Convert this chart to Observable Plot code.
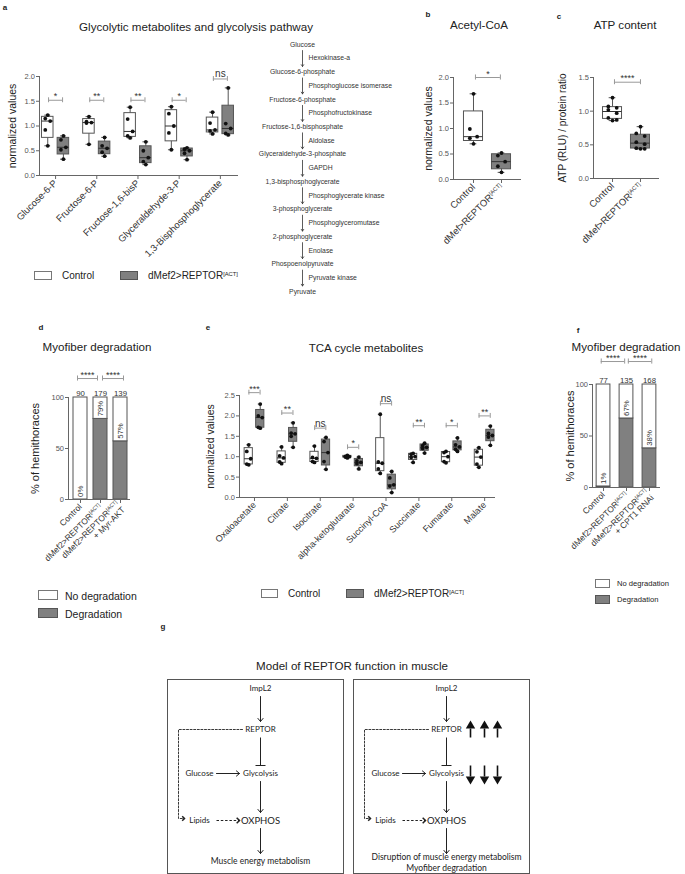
<!DOCTYPE html>
<html><head><meta charset="utf-8">
<script src="https://cdn.jsdelivr.net/npm/d3@7"></script>
<script src="https://cdn.jsdelivr.net/npm/@observablehq/plot@0.6"></script>
<style>
body{margin:0;background:#fff;}
#fig{position:relative;width:685px;height:874px;overflow:hidden;font-family:"Liberation Sans",Arial,Helvetica,sans-serif;color:#222;background:#fff;}
</style></head><body><div id="fig"></div>
<script>
// ---------------- DATA ----------------
const glyCats = ["Glucose-6-P","Fructose-6-P","Fructose-1,6-bisP","Glyceraldehyde-3-P","1,3-Bisphosphoglycerate"];
const glyControl = [[1.22,1.15,1.10,0.92,0.60],[1.19,1.09,1.07,1.06,0.63],[1.38,1.14,0.89,0.80,0.76],[1.39,1.25,1.00,0.86,0.52],[1.28,1.06,0.92,0.90,0.84]];
const glyReptor  = [[0.80,0.72,0.57,0.52,0.33],[0.77,0.60,0.55,0.47,0.39],[0.68,0.50,0.36,0.28,0.22],[0.56,0.53,0.50,0.45,0.32],[1.77,1.05,0.95,0.85,0.82]];
const glySig  = ["*","**","**","*","ns"];
const glySigY = [1.52,1.52,1.52,1.52,1.95];

const pathwayMetabolites = ["Glucose","Glucose-6-phosphate","Fructose-6-phosphate","Fructose-1,6-bisphosphate","Glyceraldehyde-3-phosphate","1,3-bisphosphoglycerate","3-phosphoglycerate","2-phosphoglycerate","Phospoenolpyruvate","Pyruvate"];
const pathwayEnzymes = ["Hexokinase-a","Phosphoglucose isomerase","Phosphofructokinase","Aldolase","GAPDH","Phosphoglycerate kinase","Phosphoglyceromutase","Enolase","Pyruvate kinase"];

const acCats = ["Control","dMef>REPTOR[ACT]"];
const acValues = [[1.68,0.99,0.84,0.81,0.70],[0.52,0.47,0.35,0.26,0.14]];
const acSig = "*", acSigY = 2.0;

const atpCats = ["Control","dMef>REPTOR[ACT]"];
const atpValues = [[1.20,1.07,1.05,1.02,0.97,0.90,0.87,0.86],[0.77,0.67,0.63,0.54,0.51,0.45,0.44,0.44]];
const atpSig = "****", atpSigY = 1.43;

const tcaCats = ["Oxaloacetate","Citrate","Isocitrate","alpha-ketoglutarate","Succinyl-CoA","Succinate","Fumarate","Malate"];
const tcaControl = [[1.29,1.13,0.95,0.82,0.80],[1.24,1.02,0.97,0.87,0.83],[1.26,0.98,0.96,0.88,0.86],[1.03,1.01,1.00,0.99,0.97],[2.04,0.87,0.84,0.70,0.59],[1.08,1.06,1.00,0.98,0.86],[1.13,1.10,1.00,0.88,0.85],[1.22,1.12,0.99,0.82,0.74]];
const tcaReptor  = [[2.29,2.00,1.96,1.72,1.70],[1.83,1.58,1.56,1.50,1.23],[1.47,1.37,1.10,0.88,0.69],[0.99,0.90,0.86,0.83,0.70],[0.64,0.48,0.31,0.28,0.12],[1.33,1.27,1.23,1.20,1.09],[1.46,1.29,1.24,1.18,1.13],[1.75,1.57,1.52,1.48,1.28]];
const tcaSig  = ["***","**","ns","*","ns","**","*","**"];
const tcaSigY = [2.57,2.07,1.70,1.23,2.30,1.76,1.76,2.00];

const myoDGroups = ["Control","dMef2>REPTOR[ACT]","dMef2>REPTOR[ACT]\n+ Myr-AKT"];
const myoDDegradation = [0,79,57];
const myoDCounts = [90,179,139];
const myoDSig = ["****","****"];

const myoFGroups = ["Control","dMef2>REPTOR[ACT]","dMef2>REPTOR[ACT]\n+ CPT1 RNAi"];
const myoFDegradation = [1,67,38];
const myoFCounts = [77,135,168];
const myoFSig = ["****","****"];

const legendGroups = ["Control","dMef2>REPTOR[ACT]"];
const degLegend = ["No degradation","Degradation"];

const modelNodes = ["ImpL2","REPTOR","Glucose","Glycolysis","Lipids","OXPHOS"];
const modelOutcomeNormal = ["Muscle energy metabolism"];
const modelOutcomeActive = ["Disruption of muscle energy metabolism","Myofiber degradation"];
const modelEdges = [["ImpL2","REPTOR","act"],["REPTOR","Glycolysis","inh"],["Glucose","Glycolysis","act"],["Glycolysis","OXPHOS","act"],["Lipids","OXPHOS","dash"],["OXPHOS","outcome","act"]];

// ---------------- HELPERS ----------------
const FONT = '"Liberation Sans", Arial, Helvetica, sans-serif';
const GREY = "#808080", EDGE = "#555", AX = "#666";
const TICK_FS = 7.5;
const fig = document.getElementById("fig");
const STYLE = {fontFamily: FONT, background: "transparent", overflow: "visible", color: "#222"};

function supify(root) {
  const walker = document.createTreeWalker(root, NodeFilter.SHOW_TEXT);
  const list = [];
  while (walker.nextNode()) if (walker.currentNode.nodeValue.includes("[ACT]")) list.push(walker.currentNode);
  for (const node of list) {
    const parts = node.nodeValue.split("[ACT]");
    const frag = document.createDocumentFragment();
    parts.forEach((p, k) => {
      if (k > 0) {
        const t = document.createElementNS("http://www.w3.org/2000/svg", "tspan");
        t.style.fontSize = "60%"; t.style.baselineShift = "super";
        t.textContent = "[ACT]"; frag.appendChild(t);
      }
      if (p) frag.appendChild(document.createTextNode(p));
    });
    node.parentNode.replaceChild(frag, node);
  }
}
function place(el, left, top) {
  el.style.position = "absolute"; el.style.left = left + "px"; el.style.top = top + "px";
  fig.appendChild(el); supify(el); return el;
}
function addText(content, x, y, size, anchor = "start", extra = {}) {
  const d = document.createElement("div");
  d.innerHTML = content;
  Object.assign(d.style, {position: "absolute", left: x + "px", top: y + "px", fontSize: size + "px", whiteSpace: "nowrap", lineHeight: "1",
    transform: anchor === "middle" ? "translate(-50%,-50%)" : "translate(0,-50%)"}, extra);
  fig.appendChild(d); return d;
}
function swatch(x, y, w, h, fill) {
  const d = document.createElement("div");
  Object.assign(d.style, {position: "absolute", left: x + "px", top: y + "px", width: w + "px", height: h + "px", background: fill, border: "1px solid " + (fill === "white" ? "#777" : "#555"), boxSizing: "border-box"});
  fig.appendChild(d);
}
const supHtml = s => s.replace(">", "&gt;").replace("[ACT]", '<span style="font-size:58%;vertical-align:0.55em">[ACT]</span>');

function quart(vals) {
  const s = [...vals].sort((a, b) => a - b), n = s.length, h = Math.floor(n / 2);
  return {min: s[0], q1: d3.median(s.slice(0, h)), med: d3.median(s), q3: d3.median(s.slice(n % 2 ? h + 1 : h)), max: s[n - 1]};
}

function boxChart(o) {
  const stats = o.boxes.map(b => ({...quart(b.values), x: b.x, fill: b.fill}));
  const pts = o.boxes.flatMap(b => [...b.values].sort((p, q) => q - p)
    .map((v, k, arr) => ({x: b.x + (k === 0 || k === arr.length - 1 ? 0 : (k % 2 ? -1 : 1) * o.jit), y: v})));
  const ends = o.sigs.flatMap(s => [{x: s.x1, y: s.y}, {x: s.x2, y: s.y}]);
  return Plot.plot({
    width: o.width, height: o.height, marginLeft: o.ml, marginRight: o.mr, marginTop: o.mt, marginBottom: o.mb,
    style: STYLE, x: {domain: o.xDomain}, y: {domain: o.yDomain}, color: {type: "identity"},
    marks: [
      Plot.ruleX([o.xDomain[0]], {y1: o.yDomain[0], y2: o.yDomain[1], stroke: AX}),
      Plot.ruleY([o.yDomain[0]], {x1: o.xDomain[0], x2: o.xDomain[1], stroke: AX}),
      Plot.axisY({ticks: o.yTicks, tickFormat: o.yFormat, tickSize: 3, tickPadding: 1.5, fontSize: TICK_FS, fill: "#555", stroke: AX, label: null}),
      Plot.axisX({ticks: o.xTicks, tickFormat: i => o.tickLabels[i], tickRotate: -45, tickSize: 4, tickPadding: 2, fontSize: o.catFont, fill: "#333", stroke: AX, label: null}),
      Plot.ruleX(stats, {x: "x", y1: "min", y2: "max", stroke: EDGE}),
      Plot.ruleY(stats, {y: "min", x1: d => d.x - o.cap, x2: d => d.x + o.cap, stroke: EDGE}),
      Plot.ruleY(stats, {y: "max", x1: d => d.x - o.cap, x2: d => d.x + o.cap, stroke: EDGE}),
      Plot.rect(stats, {x1: d => d.x - o.hw, x2: d => d.x + o.hw, y1: "q1", y2: "q3", fill: "fill", stroke: EDGE}),
      Plot.ruleY(stats, {y: "med", x1: d => d.x - o.hw, x2: d => d.x + o.hw, stroke: "#333"}),
      Plot.dot(pts, {x: "x", y: "y", r: 1.9, fill: "#111", stroke: "none"}),
      Plot.ruleY(o.sigs, {y: "y", x1: "x1", x2: "x2", stroke: "#999"}),
      Plot.ruleX(ends, {x: "x", y1: d => d.y - o.sigTick, y2: d => d.y + o.sigTick, stroke: "#999"}),
      Plot.text(o.sigs.filter(s => s.label !== "ns"), {x: d => (d.x1 + d.x2) / 2, y: "y", text: "label", lineAnchor: "bottom", dy: -1, fontSize: 9, fill: "#333"}),
      Plot.text(o.sigs.filter(s => s.label === "ns"), {x: d => (d.x1 + d.x2) / 2, y: "y", text: "label", lineAnchor: "bottom", dy: -1.5, fontSize: 10, fill: "#333"}),
      Plot.text([o.yLabel], {text: d => d, frameAnchor: "left", textAnchor: "middle", dx: o.yLabelDx, rotate: -90, fontSize: o.yLabelSize, fill: "#222"})
    ]
  });
}

function barChart(o) {
  const rows = o.groups.map((g, i) => ({i, deg: o.deg[i], n: o.counts[i]}));
  const ends = o.sigs.flatMap(s => [{x: s.x1, y: s.y}, {x: s.x2, y: s.y}]);
  return Plot.plot({
    width: o.width, height: o.height, marginLeft: o.ml, marginRight: o.mr, marginTop: o.mt, marginBottom: o.mb,
    style: STYLE, x: {domain: o.xDomain}, y: {domain: [0, 100]},
    marks: [
      Plot.rect(rows, {x1: d => d.i - o.hw, x2: d => d.i + o.hw, y1: 0, y2: "deg", fill: GREY, stroke: EDGE}),
      Plot.rect(rows, {x1: d => d.i - o.hw, x2: d => d.i + o.hw, y1: "deg", y2: 100, fill: "white", stroke: EDGE}),
      Plot.ruleX([o.xDomain[0]], {y1: 0, y2: 100, stroke: AX}),
      Plot.ruleY([0], {x1: o.xDomain[0], x2: o.xDomain[1], stroke: AX}),
      Plot.axisY({ticks: [0, 50, 100], tickSize: 3, tickPadding: 1.5, fontSize: TICK_FS, fill: "#555", stroke: AX, label: null}),
      Plot.axisX({ticks: [0, 1, 2], tickFormat: i => o.groups[i], tickRotate: -45, tickSize: 4, tickPadding: 2, fontSize: o.catFont, fill: "#333", stroke: AX, label: null}),
      Plot.text(rows, {x: "i", y: d => d.deg + 2.5, text: d => d.deg + "%", rotate: -90, textAnchor: "start", fontSize: 7.8, fill: "#333"}),
      Plot.text(rows, {x: "i", y: 100, text: "n", lineAnchor: "bottom", dy: -2, fontSize: 7.8, fill: "#333"}),
      Plot.ruleY(o.sigs, {y: "y", x1: "x1", x2: "x2", stroke: "#999"}),
      Plot.ruleX(ends, {x: "x", y1: d => d.y - 2.5, y2: d => d.y + 2.5, stroke: "#999"}),
      Plot.text(o.sigs, {x: d => (d.x1 + d.x2) / 2, y: "y", text: "label", lineAnchor: "bottom", dy: -1, fontSize: 9, fill: "#333"}),
      Plot.text(["% of hemithoraces"], {text: d => d, frameAnchor: "left", textAnchor: "middle", dx: o.yLabelDx, rotate: -90, fontSize: 11, fill: "#222"})
    ]
  });
}

// ---------------- PANEL A ----------------
const aOff = 0.19;
place(boxChart({
  width: 250, height: 262, ml: 39, mr: 12, mt: 76, mb: 87,
  xDomain: [-0.39, 4.44], yDomain: [0, 2], yTicks: [0, 0.5, 1, 1.5, 2], yFormat: d3.format(".1f"),
  xTicks: d3.range(glyCats.length), tickLabels: glyCats, catFont: 9.5,
  boxes: glyCats.flatMap((c, i) => [{x: i - aOff, fill: "white", values: glyControl[i]}, {x: i + aOff, fill: GREY, values: glyReptor[i]}]),
  hw: 0.14, cap: 0.07, jit: 0.06, sigTick: 0.05,
  sigs: glyCats.map((c, i) => ({x1: i - 0.17, x2: i + 0.17, y: glySigY[i], label: glySig[i]})),
  yLabel: "normalized values", yLabelDx: -27, yLabelSize: 10.5
}), 0, 0);

// pathway
place(Plot.plot({
  width: 180, height: 300, marginTop: 44, marginBottom: 9, marginLeft: 0, marginRight: 0, style: STYLE,
  x: {domain: [-1, 1], axis: null}, y: {domain: [0, pathwayMetabolites.length - 1], reverse: true, axis: null},
  marks: [
    Plot.text(pathwayMetabolites, {x: 0, y: (d, i) => i, text: d => d, fontSize: 6.8, fill: "#333"}),
    Plot.arrow(pathwayEnzymes, {x1: 0, x2: 0, y1: (d, i) => i + 0.22, y2: (d, i) => i + 0.8, headLength: 4, headAngle: 70, strokeWidth: 0.8, stroke: "#333"}),
    Plot.text(pathwayEnzymes, {x: 0, y: (d, i) => i + 0.5, text: d => d, textAnchor: "start", dx: 6, fontSize: 6.8, fill: "#333"})
  ]
}), 212, 0);

// ---------------- PANEL B ----------------
place(boxChart({
  width: 120, height: 270, ml: 43, mr: 9, mt: 77, mb: 91,
  xDomain: [-0.714, 1.714], yDomain: [0, 2], yTicks: [0, 0.5, 1, 1.5, 2], yFormat: d3.format(".1f"),
  xTicks: [0, 1], tickLabels: acCats, catFont: 9.5,
  boxes: [{x: 0, fill: "white", values: acValues[0]}, {x: 1, fill: GREY, values: acValues[1]}],
  hw: 0.34, cap: 0.12, jit: 0.13, sigTick: 0.05,
  sigs: [{x1: 0.07, x2: 0.96, y: acSigY, label: acSig}],
  yLabel: "normalized values", yLabelDx: -25, yLabelSize: 10.5
}), 410, 0);

// ---------------- PANEL C ----------------
place(boxChart({
  width: 130, height: 270, ml: 48, mr: 16, mt: 77, mb: 92,
  xDomain: [-0.68, 1.68], yDomain: [0, 1.5], yTicks: [0, 0.5, 1, 1.5], yFormat: d3.format(".1f"),
  xTicks: [0, 1], tickLabels: atpCats, catFont: 9.5,
  boxes: [{x: 0, fill: "white", values: atpValues[0]}, {x: 1, fill: GREY, values: atpValues[1]}],
  hw: 0.34, cap: 0.12, jit: 0.15, sigTick: 0.037,
  sigs: [{x1: 0.07, x2: 1.0, y: atpSigY, label: atpSig}],
  yLabel: "ATP (RLU) / protein ratio", yLabelDx: -31, yLabelSize: 10
}), 545, 0);

// ---------------- PANEL D ----------------
place(barChart({
  width: 150, height: 220, ml: 68, mr: 20, mt: 37, mb: 81,
  xDomain: [-0.6, 2.5], hw: 0.35, groups: myoDGroups, deg: myoDDegradation, counts: myoDCounts, catFont: 8.5,
  sigs: [{x1: -0.15, x2: 0.85, y: 118.6, label: myoDSig[0]}, {x1: 1.1, x2: 2.15, y: 118.6, label: myoDSig[1]}],
  yLabelDx: -33
}), 0, 360);

// ---------------- PANEL E ----------------
const eOff = 0.175;
place(boxChart({
  width: 310, height: 220, ml: 44, mr: 10, mt: 35, mb: 83,
  xDomain: [-0.456, 7.33], yDomain: [0, 2.5], yTicks: [0, 0.5, 1, 1.5, 2, 2.5], yFormat: d3.format(".1f"),
  xTicks: d3.range(tcaCats.length), tickLabels: tcaCats, catFont: 9,
  boxes: tcaCats.flatMap((c, i) => [{x: i - eOff, fill: "white", values: tcaControl[i]}, {x: i + eOff, fill: GREY, values: tcaReptor[i]}]),
  hw: 0.125, cap: 0.06, jit: 0.06, sigTick: 0.06,
  sigs: tcaCats.map((c, i) => ({x1: i - 0.17, x2: i + 0.17, y: tcaSigY[i], label: tcaSig[i]})),
  yLabel: "normalized values", yLabelDx: -29, yLabelSize: 10.5
}), 195, 360);

// ---------------- PANEL F ----------------
place(barChart({
  width: 145, height: 230, ml: 52, mr: 25, mt: 44, mb: 83,
  xDomain: [-0.48, 2.48], hw: 0.3, groups: myoFGroups, deg: myoFDegradation, counts: myoFCounts, catFont: 8.5,
  sigs: [{x1: -0.1, x2: 0.92, y: 122.3, label: myoFSig[0]}, {x1: 1.08, x2: 2.1, y: 122.3, label: myoFSig[1]}],
  yLabelDx: -22
}), 540, 340);

// ---------------- PANEL G (model) ----------------
const nodeXY = {ImpL2: [93, 9], REPTOR: [93, 50], Glucose: [32, 94], Glycolysis: [93, 94], Lipids: [32, 141], OXPHOS: [93, 141], outcome: [93, 182]};
const chevron = {draw(ctx, size) { const s = Math.sqrt(size) / 2; ctx.moveTo(-s, -s); ctx.lineTo(0, 0); ctx.lineTo(-s, s); }};
function modelPanel(active) {
  const seg = e => {
    const [a, b] = [nodeXY[e[0]], nodeXY[e[1]]];
    return a[0] === b[0] ? {x1: a[0], y1: a[1] + 8, x2: b[0], y2: b[1] - 8, t: e[2]} : {x1: a[0] + 17, y1: a[1], x2: b[0] - 21, y2: b[1], t: e[2]};
  };
  const segs = modelEdges.map(seg);
  const loop = [[nodeXY.REPTOR[0] - 18, nodeXY.REPTOR[1]], [11, nodeXY.REPTOR[1]], [11, nodeXY.Lipids[1] - 2], [17, nodeXY.Lipids[1] - 2]];
  const outcome = active ? modelOutcomeActive : modelOutcomeNormal;
  const marks = [
    Plot.frame({stroke: "#555"}),
    Plot.text(modelNodes.filter(n => n !== "OXPHOS"), {x: d => nodeXY[d][0], y: d => nodeXY[d][1], text: d => d, fontSize: 8, fill: "#222"}),
    Plot.text(["OXPHOS"], {x: d => nodeXY[d][0], y: d => nodeXY[d][1], text: d => d, fontSize: 9.5, fill: "#222"}),
    Plot.text(outcome, {x: nodeXY.outcome[0], y: (d, i) => nodeXY.outcome[1] + (outcome.length > 1 ? (i - 0.4) * 11 : 0), text: d => d, fontSize: 8.5, fill: "#222"}),
    Plot.arrow(segs.filter(s => s.t === "act"), {x1: "x1", y1: "y1", x2: "x2", y2: "y2", headLength: 6, headAngle: 80, stroke: "#222", strokeWidth: 1}),
    Plot.link(segs.filter(s => s.t === "inh"), {x1: "x1", y1: "y1", x2: "x2", y2: "y2", stroke: "#222"}),
    Plot.link(segs.filter(s => s.t === "inh"), {x1: d => d.x2 - 5, x2: d => d.x2 + 5, y1: "y2", y2: "y2", stroke: "#222"}),
    Plot.link(segs.filter(s => s.t === "dash"), {x1: "x1", y1: "y1", x2: "x2", y2: "y2", stroke: "#222", strokeDasharray: "2.5,1.8"}),
    Plot.dot(segs.filter(s => s.t === "dash"), {x: "x2", y: "y2", symbol: chevron, r: 3.2, fill: "none", stroke: "#222"}),
    Plot.line(loop, {x: d => d[0], y: d => d[1], stroke: "#222", strokeDasharray: "2,1.6", strokeWidth: 0.9}),
    Plot.dot([loop[loop.length - 1]], {x: d => d[0], y: d => d[1], symbol: chevron, r: 2.6, fill: "none", stroke: "#222"})
  ];
  if (active) {
    const ups = [117, 131, 144];
    marks.push(
      Plot.link(ups, {x1: d => d, x2: d => d, y1: 49, y2: 58, stroke: "#111", strokeWidth: 1.6}),
      Plot.dot(ups, {x: d => d, y: 46.4, symbol: "triangle", r: 3.5, fill: "#111", stroke: "none"}),
      Plot.link(ups, {x1: d => d, x2: d => d, y1: 86, y2: 97, stroke: "#111", strokeWidth: 1.6}),
      Plot.dot(ups, {x: d => d, y: 99.6, symbol: "triangle", rotate: 180, r: 3.5, fill: "#111", stroke: "none"})
    );
  }
  return Plot.plot({
    width: 176, height: 194, margin: 0, style: {...STYLE, fontFamily: 'Lato, "Liberation Sans", Arial, sans-serif'},
    x: {domain: [0, 176], axis: null}, y: {domain: [0, 194], reverse: true, axis: null}, marks
  });
}
place(modelPanel(false), 167, 679);
place(modelPanel(true), 353, 679);

// ---------------- TITLES, LABELS, LEGENDS ----------------
const panelLetters = [["a", 5, 8], ["b", 428, 15], ["c", 559, 17], ["d", 41, 328], ["e", 208, 328], ["f", 578, 331], ["g", 163, 627]];
panelLetters.forEach(([t, x, y]) => addText(t, x, y, 8, "middle", {fontWeight: "bold"}));
const titles = [["Glycolytic metabolites and glycolysis pathway", 196, 27], ["Acetyl-CoA", 479, 25], ["ATP content", 625, 25],
  ["Myofiber degradation", 97, 347], ["TCA cycle metabolites", 366, 348], ["Myofiber degradation", 626, 347], ["Model of REPTOR function in muscle", 352, 666]];
titles.forEach(([t, x, y]) => addText(t, x, y, 11.6, "middle"));

// legend a
swatch(34, 271, 18, 9, "white"); addText(legendGroups[0], 62, 275.5, 10);
swatch(120, 271, 18, 9, GREY); addText(supHtml(legendGroups[1]), 148, 275.5, 10);
// legend e
swatch(261, 589, 17, 9, "white"); addText(legendGroups[0], 288, 593.5, 10);
swatch(346, 589, 18, 9, GREY); addText(supHtml(legendGroups[1]), 374, 593.5, 10);
// legend d
swatch(38, 590, 20, 10, "white"); addText(degLegend[0], 65, 595.5, 10.5);
swatch(38, 608, 20, 10, GREY); addText(degLegend[1], 65, 613.5, 10.5);
// legend f (smaller in the reference)
swatch(595, 579, 15, 9, "white"); addText(degLegend[0], 617, 583.5, 7.6);
swatch(595, 595, 15, 9, GREY); addText(degLegend[1], 617, 599.5, 7.6);
</script></body></html>
